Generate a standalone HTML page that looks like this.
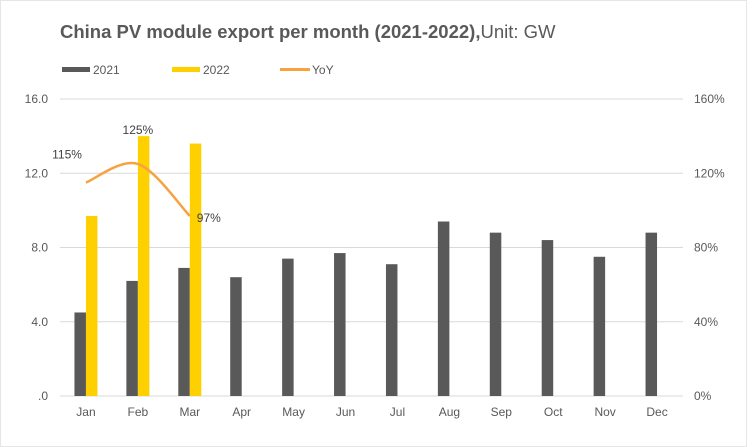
<!DOCTYPE html>
<html><head><meta charset="utf-8"><style>
body{margin:0;background:#fff;}
svg{display:block;font-family:"Liberation Sans",Arial,sans-serif;}
</style></head><body>
<svg id="c" width="755" height="447">
<rect x="0.5" y="0.5" width="746" height="446" fill="#fff" stroke="#e6e6e6"/>
<text x="60" y="38" font-size="18.5" fill="#595959"><tspan font-weight="bold">China PV module export per month (2021-2022),</tspan><tspan>Unit: GW</tspan></text>
<g>
<rect x="62" y="67" width="28" height="5" fill="#595959"/>
<text x="93" y="74" font-size="12" fill="#595959">2021</text>
<rect x="172" y="67" width="28" height="5" fill="#ffd000"/>
<text x="203" y="74" font-size="12" fill="#595959">2022</text>
<line x1="280" y1="69.5" x2="310" y2="69.5" stroke="#f7a240" stroke-width="3"/>
<text x="312" y="74" font-size="12" fill="#595959">YoY</text>
</g>
<g id="plot"></g>
</svg>
<script>
const categories=["Jan","Feb","Mar","Apr","May","Jun","Jul","Aug","Sep","Oct","Nov","Dec"];
const s2021=[4.5,6.2,6.9,6.4,7.4,7.7,7.1,9.4,8.8,8.4,7.5,8.8];
const s2022=[9.7,14.0,13.6];
const yoy=[115,125,97];
const leftTicks=[0,4,8,12,16];
const leftTickLabels=[".0","4.0","8.0","12.0","16.0"];
const rightTicks=[0,40,80,120,160];
const rightTickLabels=["0%","40%","80%","120%","160%"];

const NS="http://www.w3.org/2000/svg";
const g=document.getElementById("plot");
const X0=60,X1=683,Y0=396,Y1=99;
const bw=(X1-X0)/categories.length;
const yL=v=>Y0-(v/16)*(Y0-Y1);
const yR=v=>Y0-(v/160)*(Y0-Y1);
const xC=i=>X0+bw*(i+0.5);
function el(t,a,txt){const e=document.createElementNS(NS,t);for(const k in a)e.setAttribute(k,a[k]);if(txt!==undefined)e.textContent=txt;g.appendChild(e);return e;}
leftTicks.forEach((t,i)=>{
 const l=el("line",{x1:X0,x2:X1,y1:yL(t),y2:yL(t),stroke:"#d9d9d9","stroke-width":1});
 
 
 const tx=el("text",{x:48,y:yL(t)+4,"font-size":12,fill:"#595959","text-anchor":"end"},leftTickLabels[i]);
 
 
});
rightTicks.forEach((t,i)=>{
 const tx=el("text",{x:694,y:yR(t)+4,"font-size":12,fill:"#595959"},rightTickLabels[i]);
 
 
});
const BW=11.5;
categories.forEach((c,i)=>{
 const tx=el("text",{x:xC(i),y:416,"font-size":12,fill:"#595959","text-anchor":"middle"},c);
 
 
 const v=s2021[i];
 const r=el("rect",{x:xC(i)-BW,y:yL(v),width:BW,height:Y0-yL(v),fill:"#595959"});
 
 
});
s2022.forEach((v,i)=>{
 const r=el("rect",{x:xC(i),y:yL(v),width:BW,height:Y0-yL(v),fill:"#ffd000"});
 
 
});
// smooth YoY line (Catmull-Rom)
const pts=yoy.map((v,i)=>[xC(i),yR(v)]);
let d="M"+pts[0][0]+","+pts[0][1];
for(let i=0;i<pts.length-1;i++){
 const p0=pts[i-1]||pts[i],p1=pts[i],p2=pts[i+1],p3=pts[i+2]||p2;
 const c1=[p1[0]+(p2[0]-p0[0])/6,p1[1]+(p2[1]-p0[1])/6];
 const c2=[p2[0]-(p3[0]-p1[0])/6,p2[1]-(p3[1]-p1[1])/6];
 d+=" C"+c1+" "+c2+" "+p2;
}
const path=el("path",{d:d,fill:"none",stroke:"#f7a240","stroke-width":2.5});


const offs=[[-4,-24,"end"],[0,-30,"middle"],[7,6,"start"]];
yoy.forEach((v,i)=>{
 const o=offs[i]||[0,-10,"middle"];
 const tx=el("text",{x:pts[i][0]+o[0],y:pts[i][1]+o[1],"font-size":12,fill:"#404040","text-anchor":o[2]},v+"%");
 
 
});
</script>
</body></html>
